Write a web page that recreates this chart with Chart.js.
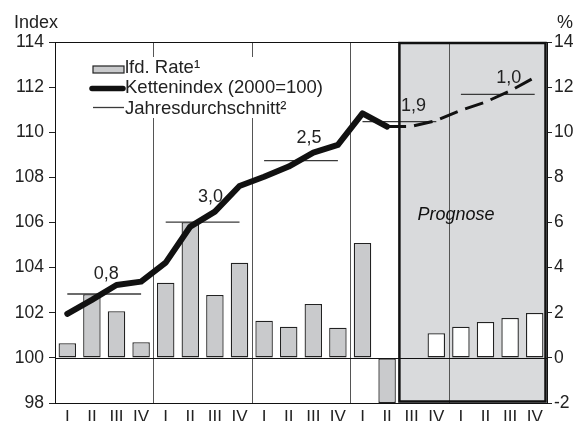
<!DOCTYPE html>
<html>
<head>
<meta charset="utf-8">
<script src="https://cdn.jsdelivr.net/npm/chart.js@4.4.0/dist/chart.umd.min.js"></script>
<style>
html, body { margin: 0; padding: 0; background: #fff; }
#wrap { width: 577px; height: 421px; }
</style>
</head>
<body>
<div id="wrap"><canvas id="chart" width="577" height="421"></canvas></div>
<script>
// Quartale 2001 bis 2005
const quartale = ['I', 'II', 'III', 'IV', 'I', 'II', 'III', 'IV', 'I', 'II', 'III', 'IV',
                  'I', 'II', 'III', 'IV', 'I', 'II', 'III', 'IV'];
// laufende Rate in % (rechte Achse)
const lfdRate = [0.65, 2.82, 2.07, 0.69, 3.33, 6.01, 2.79, 4.22, 1.65, 1.38, 2.39, 1.34,
                 5.09, -2.0, null, 1.09, 1.38, 1.59, 1.77, 1.99];
// Kettenindex (2000=100), Ist-Werte
const kettenindex = [101.95, 102.57, 103.23, 103.38, 104.22, 105.82, 106.48, 107.62, 108.03, 108.48,
                     109.10, 109.44, 110.84, 110.25, null, null, null, null, null, null];
// Kettenindex, Prognose
const kettenPrognose = [null, null, null, null, null, null, null, null, null, null,
                        null, null, null, 110.25, 110.26, 110.52, 110.97, 111.34, 111.83, 112.43];
// Jahresdurchschnitt je Jahr (Index) und Veraenderung in %
const jahresschnitt = [102.83, 106.02, 108.74, 110.47, 111.68];
const jahresRate = ['0,8', '3,0', '2,5', '1,9', '1,0'];
const yIndexTicks = [98, 114];
const yRateTicks = [-2, 14];
const prognoseAb = 14;

const schrift = '"Liberation Sans", Arial, Helvetica, sans-serif';
Chart.defaults.font.family = schrift;
Chart.defaults.color = '#222';

const schnittSets = jahresschnitt.map((v, j) => ({
    type: 'line',
    data: quartale.map((q, i) => Math.floor(i / 4) === j ? v : null),
    yAxisID: 'y',
    borderColor: '#3a3a3a',
    borderWidth: 1.3,
    pointRadius: 0,
    spanGaps: false,
    order: 2
}));

const hintergrund = {
    id: 'hintergrund',
    beforeDatasetsDraw(chart) {
        const c = chart.ctx, a = chart.chartArea, x = chart.scales.x, y1 = chart.scales.y1;
        const grenze = i => (x.getPixelForValue(i - 1) + x.getPixelForValue(i)) / 2;
        c.save();
        // Prognosefeld
        c.fillStyle = '#d9dadc';
        c.fillRect(grenze(prognoseAb), a.top, a.right - grenze(prognoseAb), a.bottom - a.top);
        // Jahrestrenner
        c.strokeStyle = '#555';
        c.lineWidth = 1;
        for (let i = 4; i < quartale.length; i += 4) {
            const px = Math.round(grenze(i)) + 0.5;
            c.beginPath(); c.moveTo(px, a.top); c.lineTo(px, a.bottom); c.stroke();
        }
        // Nulllinie
        const py = Math.round(y1.getPixelForValue(0)) + 0.5;
        c.strokeStyle = '#111';
        c.beginPath(); c.moveTo(a.left, py); c.lineTo(a.right, py); c.stroke();
        c.restore();
    },
    afterDatasetsDraw(chart) {
        const c = chart.ctx, a = chart.chartArea, x = chart.scales.x, y = chart.scales.y;
        const grenze = i => (x.getPixelForValue(i - 1) + x.getPixelForValue(i)) / 2;
        c.save();
        // Rahmen oben
        c.strokeStyle = '#111';
        c.lineWidth = 1;
        c.beginPath(); c.moveTo(a.left, a.top + 0.5); c.lineTo(a.right, a.top + 0.5); c.stroke();
        // Prognoserahmen
        const px0 = grenze(prognoseAb);
        c.lineWidth = 2.5;
        c.strokeRect(px0, a.top + 1, a.right - 1.5 - px0, a.bottom - a.top - 2.5);
        c.fillStyle = '#111';
        c.font = 'italic 18px ' + schrift;
        c.textAlign = 'left';
        c.textBaseline = 'alphabetic';
        c.fillText('Prognose', px0 + 18, y.getPixelForValue(106.1));

        // Jahresraten ueber den Durchschnittslinien
        const verschub = [[2, -22], [8, -27], [8, -24], [14, -17], [11, -18]];
        c.font = '18px ' + schrift;
        c.textAlign = 'center';
        c.fillStyle = '#222';
        jahresRate.forEach((t, j) => {
            const mx = (x.getPixelForValue(j * 4) + x.getPixelForValue(j * 4 + 3)) / 2;
            const my = y.getPixelForValue(jahresschnitt[j]);
            c.fillText(t, mx + verschub[j][0], my + verschub[j][1] + 6.5);
        });

        // Legende
        const lx = a.left, ly = a.top;
        c.fillStyle = '#fff';
        c.fillRect(lx + 31, ly + 15, 245, 61);
        c.fillStyle = '#c9cacc';
        c.fillRect(lx + 38, ly + 24, 31, 7);
        c.strokeStyle = '#222';
        c.lineWidth = 1.2;
        c.strokeRect(lx + 38, ly + 24, 31, 7);
        c.strokeStyle = '#111';
        c.lineCap = 'round';
        c.lineWidth = 5.5;
        c.beginPath(); c.moveTo(lx + 37, ly + 46.5); c.lineTo(lx + 68, ly + 46.5); c.stroke();
        c.lineCap = 'butt';
        c.lineWidth = 1.3;
        c.strokeStyle = '#3a3a3a';
        c.beginPath(); c.moveTo(lx + 38, ly + 65.5); c.lineTo(lx + 69, ly + 65.5); c.stroke();
        c.fillStyle = '#222';
        c.textAlign = 'left';
        c.font = '18.5px ' + schrift;
        c.fillText('lfd. Rate¹', lx + 70, ly + 31);
        c.fillText('Kettenindex (2000=100)', lx + 70, ly + 51);
        c.fillText('Jahresdurchschnitt²', lx + 70, ly + 71.5);

        // Achsentitel
        c.font = '18px ' + schrift;
        c.fillText('Index', 14, 28);
        c.fillText('%', 557, 28);
        c.restore();
    }
};

const achsenTicks = {
    color: '#222',
    font: { size: 17.5 },
    stepSize: 2
};

const ctx = document.getElementById('chart').getContext('2d');
const myChart = new Chart(ctx, {
    type: 'bar',
    data: {
        labels: quartale,
        datasets: [
            {
                type: 'line',
                label: 'Kettenindex (2000=100)',
                data: kettenindex,
                yAxisID: 'y',
                borderColor: '#111',
                borderWidth: 6,
                borderCapStyle: 'round',
                borderJoinStyle: 'round',
                pointRadius: 0,
                tension: 0,
                order: 1
            },
            {
                type: 'line',
                label: 'Prognose',
                data: kettenPrognose,
                yAxisID: 'y',
                borderColor: '#111',
                borderWidth: 3,
                borderDash: [19, 8],
                pointRadius: 0,
                tension: 0,
                order: 1
            },
            ...schnittSets,
            {
                type: 'bar',
                label: 'lfd. Rate¹',
                data: lfdRate,
                yAxisID: 'y1',
                backgroundColor: c => c.dataIndex >= prognoseAb ? '#ffffff' : '#c9cacc',
                borderColor: '#222',
                borderWidth: 1.3,
                borderSkipped: false,
                barPercentage: 0.71,
                categoryPercentage: 1,
                order: 3
            }
        ]
    },
    options: {
        responsive: false,
        animation: false,
        layout: { padding: { top: 42, left: 0, right: 0, bottom: 0 } },
        plugins: { legend: { display: false }, tooltip: { enabled: false } },
        scales: {
            x: {
                grid: { display: false },
                border: { display: true, color: '#111', width: 1 },
                ticks: { color: '#222', font: { size: 17 }, padding: -4, maxRotation: 0, autoSkip: false },
                afterFit(s) { s.height = 18; }
            },
            y: {
                position: 'left',
                min: yIndexTicks[0],
                max: yIndexTicks[1],
                ticks: Object.assign({ padding: 5 }, achsenTicks),
                grid: { drawOnChartArea: false, tickLength: 6, color: '#222' },
                border: { display: true, color: '#111', width: 1 },
                afterFit(s) { s.width = 55; }
            },
            y1: {
                position: 'right',
                min: yRateTicks[0],
                max: yRateTicks[1],
                ticks: Object.assign({ padding: 2 }, achsenTicks),
                grid: { drawOnChartArea: false, tickLength: 5, color: '#222' },
                border: { display: true, color: '#111', width: 1 },
                afterFit(s) { s.width = 30; }
            }
        }
    },
    plugins: [hintergrund]
});
</script>
</body>
</html>
